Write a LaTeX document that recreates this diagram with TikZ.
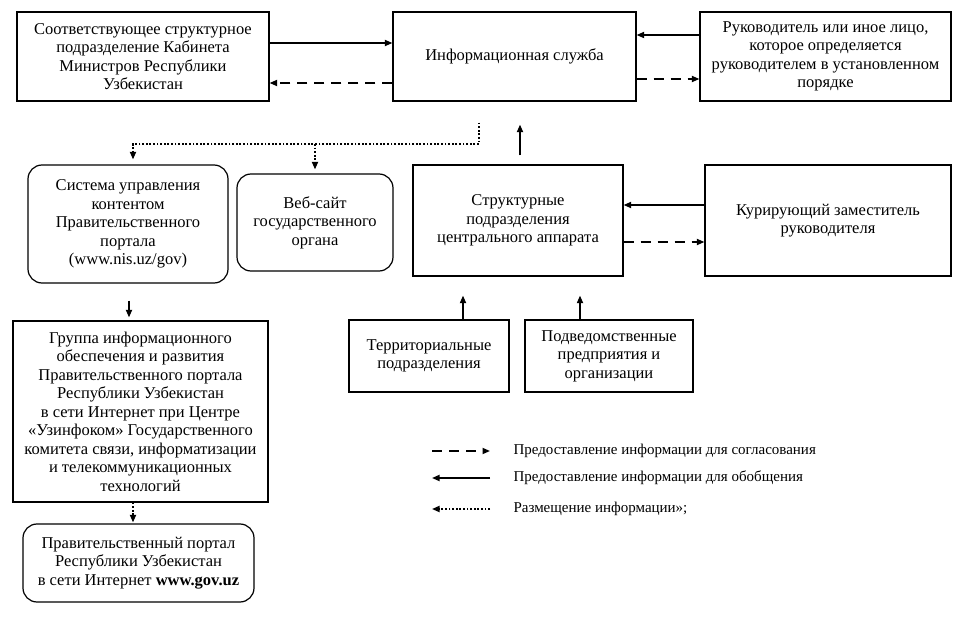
\documentclass[tikz,border=0pt]{standalone}
\usepackage{fontspec}
\setmainfont{Liberation Serif}
\usetikzlibrary{arrows.meta,calc}
\begin{document}
\begin{tikzpicture}[x=1pt,y=-1pt,
  box/.style={draw,line width=1.2pt,align=center,inner sep=2pt,
    font=\fontsize{16.5}{18.5}\selectfont,anchor=center},
  rbox/.style={box,rounded corners=14pt},
  tip/.style={-{Triangle[length=7.5pt,width=6pt]}},
  solidarrow/.style={tip,line width=1.7pt},
  dasharrow/.style={tip,line width=1.7pt,dash pattern=on 10pt off 7pt},
  dotarrow/.style={tip,line width=1.7pt,dash pattern=on 1.8pt off 1.8pt},
  legtext/.style={anchor=west,font=\fontsize{15}{17}\selectfont}]
\useasboundingbox[fill=white] (0,0) rectangle (959,639);

\node[box,minimum width=252pt,minimum height=89pt] (A) at (143,56.5)
  {Соответствующее структурное\\подразделение Кабинета\\Министров Республики\\Узбекистан};
\node[box,minimum width=243pt,minimum height=89pt] (B) at (514.5,56.5)
  {Информационная служба};
\node[box,minimum width=251pt,minimum height=89pt] (C) at (825.5,56.5)
  {Руководитель или иное лицо,\\которое определяется\\руководителем в установленном\\порядке};
\node[box,minimum width=210pt,minimum height=111pt] (S) at (518,220.5)
  {Структурные\\подразделения\\центрального аппарата};
\node[box,minimum width=246pt,minimum height=111pt] (K) at (828,220.5)
  {Курирующий заместитель\\руководителя};
\node[rbox,minimum width=200pt,minimum height=118pt] (Sys) at (128,224)
  {Система управления\\контентом\\Правительственного\\портала\\(www.nis.uz/gov)};
\node[rbox,minimum width=156pt,minimum height=97pt] (W) at (315,222.5)
  {Веб-сайт\\государственного\\органа};
\node[box,minimum width=160pt,minimum height=72pt] (T) at (429,356)
  {Территориальные\\подразделения};
\node[box,minimum width=168pt,minimum height=72pt] (P) at (609,356)
  {Подведомственные\\предприятия и\\организации};
\node[box,minimum width=255pt,minimum height=181pt] (G) at (140.5,411.5)
  {Группа информационного\\обеспечения и развития\\Правительственного портала\\Республики Узбекистан\\в сети Интернет при Центре\\«Узинфоком» Государственного\\комитета связи, информатизации\\и телекоммуникационных\\технологий};
\node[rbox,minimum width=231pt,minimum height=78pt] (Por) at (138.5,563)
  {Правительственный портал\\Республики Узбекистан\\в сети Интернет \textbf{www.gov.uz}};

% top row
\draw[solidarrow] ([yshift=13.5pt]A.east) -- ([yshift=13.5pt]B.west);
\draw[dasharrow] ([yshift=-26.5pt]B.west) -- ([yshift=-26.5pt]A.east);
\draw[solidarrow] ([yshift=21.5pt]C.west) -- ([yshift=21.5pt]B.east);
\draw[dasharrow] ([yshift=-22.5pt]B.east) -- ([yshift=-22.5pt]C.west);

% structural
\draw[solidarrow] ([yshift=15.5pt]K.west) -- ([yshift=15.5pt]S.east);
\draw[dasharrow] ([yshift=-21.5pt]S.east) -- ([yshift=-21.5pt]K.west);
\draw[solidarrow,shorten <=9pt,shorten >=23pt] ([xshift=2pt]S.north) -- ([xshift=2pt]S.north |- B.south);
\draw[solidarrow,shorten >=19pt] ([xshift=34pt]T.north) -- ([xshift=34pt]T.north |- S.south);
\draw[solidarrow,shorten >=19pt] ([xshift=-29pt]P.north) -- ([xshift=-29pt]P.north |- S.south);

% dotted distribution
\coordinate (d1) at (479,144);
\coordinate (d2) at (133,144);
\draw[dotarrow,shorten <=21pt,shorten >=5pt] (d1 |- B.south) -- (d1) -- (d2) -- (d2 |- Sys.north);
\draw[dotarrow,shorten >=4pt] (W.north |- d1) -- (W.north);

% left column
\draw[solidarrow,shorten <=17pt,shorten >=3pt] ([xshift=1pt]Sys.south) -- ([xshift=1pt]Sys.south |- G.north);
\draw[dotarrow,shorten >=1pt] ([xshift=-7.5pt]G.south) -- ([xshift=-7.5pt]G.south |- Por.north);

% legend
\coordinate (l1a) at (432,451); \coordinate (l1b) at (490,451);
\coordinate (l2a) at (432,478); \coordinate (l2b) at (490,478);
\coordinate (l3a) at (432,509); \coordinate (l3b) at (490,509);
\draw[dasharrow] (l1a) -- (l1b);
\draw[solidarrow] (l2b) -- (l2a);
\draw[dotarrow] (l3b) -- (l3a);
\node[legtext] (t1) at (510,451) {Предоставление информации для согласования};
\node[legtext] (t2) at (510,478) {Предоставление информации для обобщения};
\node[legtext] (t3) at (510,509) {Размещение информации»;};
\end{tikzpicture}
\end{document}
